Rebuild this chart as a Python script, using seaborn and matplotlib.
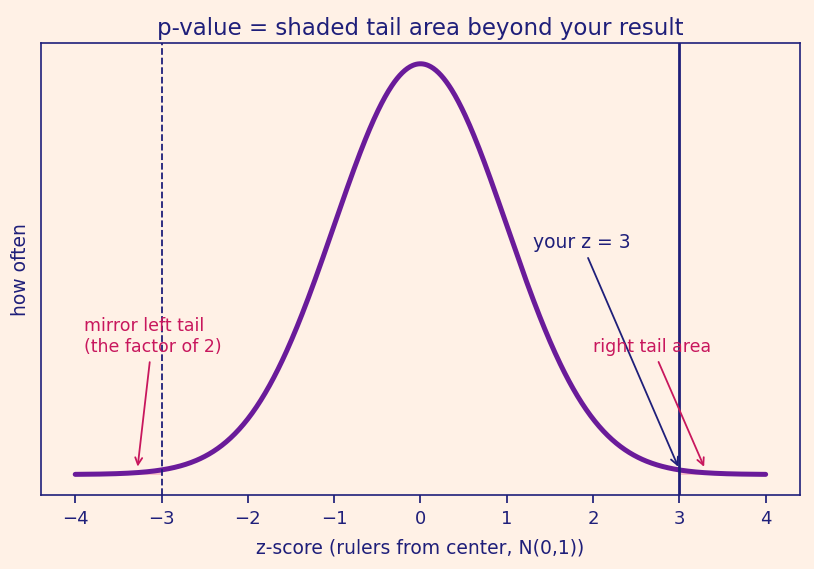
import numpy as np
import pandas as pd
import matplotlib
matplotlib.use("Agg")
import matplotlib.pyplot as plt
import seaborn as sns

# distribution + result shown in the chart
mu = 0.0
sigma = 1.0
z_obs = 3.0
x_lo, x_hi = -4.0, 4.0
xticks = [-4, -3, -2, -1, 0, 1, 2, 3, 4]

bg = "#fff1e6"
navy = "#1f1f7a"
purple = "#6a1b9a"
red = "#c8175d"

sns.set_theme(style="white", rc={
    "figure.facecolor": bg,
    "axes.facecolor": bg,
    "axes.edgecolor": navy,
    "axes.labelcolor": navy,
    "xtick.color": navy,
    "text.color": navy,
    "xtick.bottom": True,
})
plt.rcParams["font.family"] = ["DejaVu Sans"]

x = np.linspace(x_lo, x_hi, 801)
pdf = np.exp(-0.5 * ((x - mu) / sigma) ** 2) / (sigma * np.sqrt(2 * np.pi))
df = pd.DataFrame({"z": x, "density": pdf})

fig, ax = plt.subplots(figsize=(8.14, 5.69), dpi=100)

# shaded tails
right = df["z"] >= z_obs
left = df["z"] <= -z_obs
ax.fill_between(df["z"][right], df["density"][right], color="#f06292", alpha=0.35, lw=0)
ax.fill_between(df["z"][left], df["density"][left], color="#f06292", alpha=0.35, lw=0)

sns.lineplot(data=df, x="z", y="density", color=purple, lw=3.6, ax=ax)

ax.axvline(z_obs, color=navy, lw=2)
ax.axvline(-z_obs, color=navy, lw=1.3, ls="--")

ax.annotate("your z = 3", xy=(z_obs, 0.005), xytext=(1.3, 0.216),
            fontsize=13.5, color=navy, ha="left", va="bottom",
            arrowprops=dict(arrowstyle="->", color=navy, lw=1.3))
ax.annotate("right tail area", xy=(3.3, 0.005), xytext=(2.0, 0.115),
            fontsize=12.5, color=red, ha="left", va="bottom",
            arrowprops=dict(arrowstyle="->", color=red, lw=1.3))
ax.annotate("mirror left tail\n(the factor of 2)", xy=(-3.28, 0.005), xytext=(-3.9, 0.115),
            fontsize=12.5, color=red, ha="left", va="bottom",
            arrowprops=dict(arrowstyle="->", color=red, lw=1.3))

ax.set_xticks(xticks)
ax.set_xticklabels([f"{t}".replace("-", "\u2212") for t in xticks], fontsize=13)
ax.tick_params(axis="x", pad=5)
ax.set_yticks([])
ax.set_xlabel("z-score (rulers from center, N(0,1))", fontsize=13.5, labelpad=7)
ax.set_ylabel("how often", fontsize=13.5, labelpad=8)
ax.set_title("p-value = shaded tail area beyond your result", fontsize=16.5, color=navy)
for s in ax.spines.values():
    s.set_color(navy)
    s.set_linewidth(1.2)

fig.subplots_adjust(left=0.05, right=0.983, top=0.924, bottom=0.13)
fig.savefig("out.png", dpi=100, facecolor=bg)
